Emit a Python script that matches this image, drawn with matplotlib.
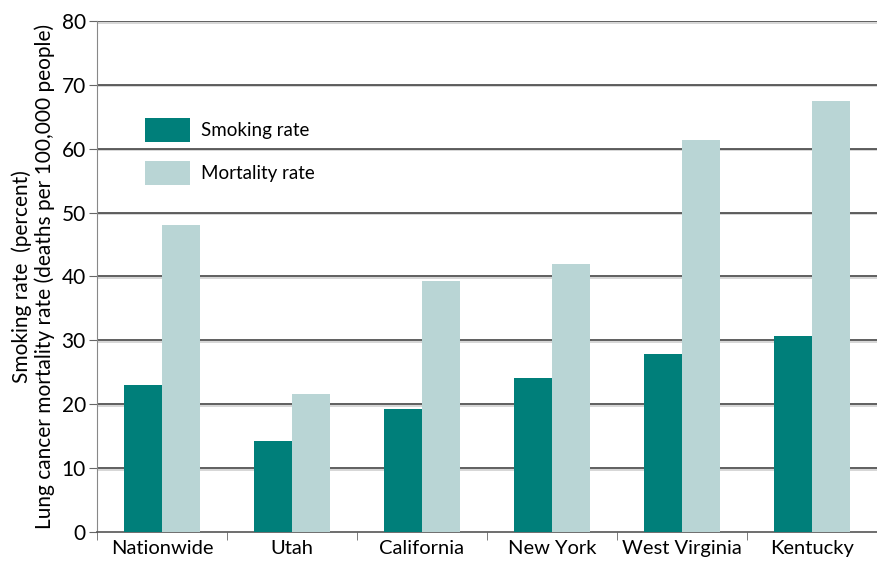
import matplotlib.pyplot as plt
import numpy as np

plt.rcParams['font.family'] = ['Lato', 'DejaVu Sans']

regions = ["Nationwide", "Utah", "California", "New York", "West Virginia", "Kentucky"]
smoking = [23.0, 14.2, 19.2, 24.1, 27.9, 30.7]
mortality = [48.0, 21.6, 39.3, 42.0, 61.4, 67.5]

teal = "#007f7a"
pale = "#b9d5d5"

fig = plt.figure(figsize=(8.77, 5.61), dpi=100)
ax = fig.add_axes([0.1106, 0.0517, 0.8894, 0.9109])

x = np.arange(len(regions))
w = 0.29
ax.bar(x - w / 2, smoking, w, color=teal, label="Smoking rate", zorder=3)
ax.bar(x + w / 2, mortality, w, color=pale, label="Mortality rate", zorder=3)

ax.set_xlim(-0.5, len(regions) - 0.5)
ax.set_ylim(0, 80)
ax.set_yticks(range(0, 81, 10))
ax.tick_params(axis='y', labelsize=15, length=6, color='#666666', pad=2)

# grid lines (with light shadow underneath)
for v in range(10, 81, 10):
    ax.axhline(v - 0.25, color='#d0d0d0', lw=1.2, zorder=1)
    ax.axhline(v, color='#444444', lw=1.2, zorder=2)

ax.set_xticks(x)
ax.set_xticklabels(regions, fontsize=14.5)
ax.set_xticks(np.arange(-0.5, len(regions)), minor=True)
ax.tick_params(axis='x', which='major', length=0, pad=6)
ax.tick_params(axis='x', which='minor', length=6, color='#666666')

for s in ['top', 'right']:
    ax.spines[s].set_visible(False)
ax.spines['left'].set_color('#888888')
ax.spines['bottom'].set_color('#555555')
ax.spines['bottom'].set_linewidth(1.2)

ax.set_ylabel("Smoking rate  (percent)\nLung cancer mortality rate (deaths per 100,000 people)",
              fontsize=15, labelpad=5, linespacing=1.1)

ax.legend(loc='upper left', bbox_to_anchor=(0.04, 0.843), frameon=False, fontsize=13.5,
          handlelength=2.4, handleheight=1.6, handletextpad=0.6, labelspacing=1.0)

fig.savefig("out.png", dpi=100)
